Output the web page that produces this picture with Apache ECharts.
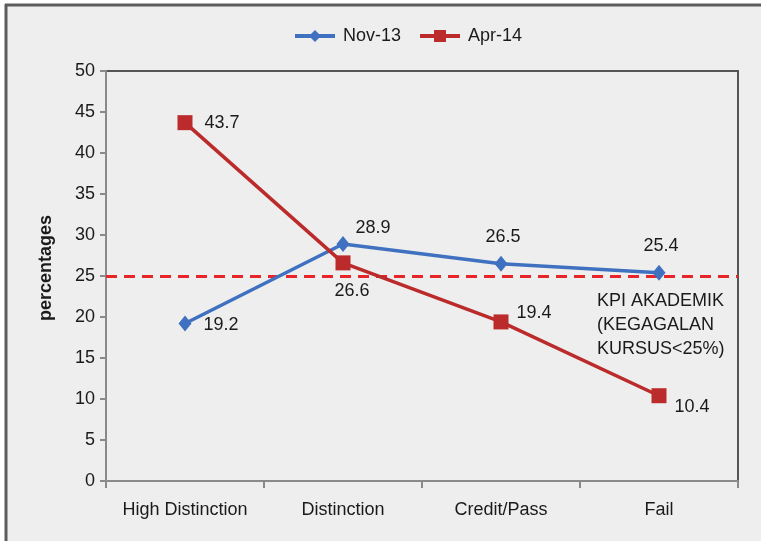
<!DOCTYPE html>
<html>
<head>
<meta charset="utf-8">
<style>
  html, body { margin: 0; padding: 0; background: #ffffff; }
  #chart { width: 761px; height: 545px; }
</style>
<script src="https://cdn.jsdelivr.net/npm/echarts@6/dist/echarts.min.js"></script>
</head>
<body>
<div id="chart"></div>
<script>
// Grade categories and the share of students (%) in each, for two exam sittings
const categories = ['High Distinction', 'Distinction', 'Credit/Pass', 'Fail'];
const nov13 = [19.2, 28.9, 26.5, 25.4];
const apr14 = [43.7, 26.6, 19.4, 10.4];
const seriesNames = ['Nov-13', 'Apr-14'];
const kpiTarget = 25;
const kpiText = 'KPI AKADEMIK\n(KEGAGALAN\nKURSUS<25%)';
const yTicks = { min: 0, max: 50, step: 5 };

const FONT = '"Liberation Sans", Arial, sans-serif';
const FS = 18;
const BLUE = '#4070C0';
const RED = '#BC2B2B';

// Where each value label sits relative to its marker
const novLabelPlace = [
  { position: 'right', distance: 12, offset: [0, 1] },
  { position: 'right', distance: 6, offset: [0, -16] },
  { position: 'top', distance: 10, offset: [2, 0] },
  { position: 'top', distance: 10, offset: [2, 0] }
];
const aprLabelPlace = [
  { position: 'right', distance: 12, offset: [0, 0] },
  { position: 'bottom', distance: 12, offset: [9, 0] },
  { position: 'right', distance: 8, offset: [0, -9] },
  { position: 'right', distance: 8, offset: [0, 11] }
];

function withLabels(values, places) {
  return values.map((v, i) => ({
    value: v,
    label: { position: places[i].position, distance: places[i].distance, offset: places[i].offset }
  }));
}

const chart = echarts.init(document.getElementById('chart'), null, { renderer: 'canvas' });

const valueLabel = {
  show: true,
  color: '#1a1a1a',
  fontFamily: FONT,
  fontSize: FS
};

chart.setOption({
  backgroundColor: 'transparent',
  animation: false,
  graphic: [
    { type: 'rect', z: -10, shape: { x: 6, y: 5, width: 755, height: 536 }, style: { fill: '#eeeeee' } },
    { type: 'line', z: -9, shape: { x1: 5, y1: 5, x2: 761, y2: 5 }, style: { stroke: '#5c5c5c', lineWidth: 3 } },
    { type: 'line', z: -9, shape: { x1: 6, y1: 4, x2: 6, y2: 541 }, style: { stroke: '#5c5c5c', lineWidth: 3 } },
    {
      type: 'text', left: 597, top: 289,
      style: { text: kpiText, fill: '#1a1a1a', font: FS + 'px ' + FONT, lineHeight: 24 }
    }
  ],
  legend: {
    top: 22,
    left: 288,
    itemWidth: 40,
    itemHeight: 15,
    itemGap: 17,
    lineStyle: { width: 4 },
    textStyle: { fontFamily: FONT, fontSize: FS, color: '#1a1a1a', padding: [0, 0, 0, 3] },
    data: seriesNames
  },
  grid: {
    left: 106, right: 23, top: 71, bottom: 64,
    show: true,
    borderColor: '#555555',
    borderWidth: 2,
    backgroundColor: 'transparent'
  },
  xAxis: {
    type: 'category',
    data: categories,
    boundaryGap: true,
    axisLine: { lineStyle: { color: '#8a8a8a', width: 2 } },
    axisTick: { show: true, length: 7, alignWithLabel: false, lineStyle: { color: '#8a8a8a', width: 2 } },
    axisLabel: { color: '#1a1a1a', fontFamily: FONT, fontSize: FS, margin: 20, interval: 0 },
    splitLine: { show: false }
  },
  yAxis: {
    type: 'value',
    min: yTicks.min,
    max: yTicks.max,
    interval: yTicks.step,
    name: 'percentages',
    nameLocation: 'middle',
    nameGap: 51,
    nameTextStyle: { fontFamily: FONT, fontSize: FS, fontWeight: 'bold', color: '#1a1a1a', padding: [0, 0, 0, 16] },
    axisLine: { show: true, lineStyle: { color: '#8a8a8a', width: 2 } },
    axisTick: { show: true, length: 6, lineStyle: { color: '#8a8a8a', width: 2 } },
    axisLabel: { color: '#1a1a1a', fontFamily: FONT, fontSize: FS, margin: 11 },
    splitLine: { show: false }
  },
  series: [
    {
      name: seriesNames[0],
      type: 'line',
      data: withLabels(nov13, novLabelPlace),
      symbol: 'diamond',
      symbolSize: [13, 16],
      itemStyle: { color: BLUE },
      lineStyle: { color: BLUE, width: 3.5 },
      label: valueLabel,
      z: 3
    },
    {
      name: seriesNames[1],
      type: 'line',
      data: withLabels(apr14, aprLabelPlace),
      symbol: 'rect',
      symbolSize: 15,
      itemStyle: { color: RED },
      lineStyle: { color: RED, width: 3.5 },
      label: valueLabel,
      z: 4,
      markLine: {
        silent: true,
        symbol: 'none',
        label: { show: false },
        lineStyle: { color: '#E8262A', width: 3, type: [11, 7] },
        data: [{ yAxis: kpiTarget }],
        z: 2
      }
    }
  ]
});
</script>
</body>
</html>
